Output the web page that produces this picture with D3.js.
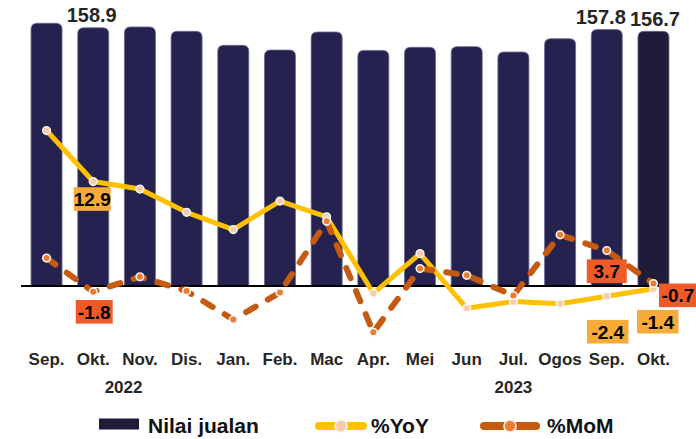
<!DOCTYPE html>
<html>
<head>
<meta charset="utf-8">
<script src="https://cdn.jsdelivr.net/npm/d3@7"></script>
<style>
  html, body { margin: 0; padding: 0; background: #fff; }
  #wrapper { width: 696px; height: 439px; overflow: hidden; }
  text { font-family: "Liberation Sans", Arial, sans-serif; font-weight: bold; }
</style>
</head>
<body>
<div id="wrapper"></div>
<script>
// the chart's values
const months = ["Sep.", "Okt.", "Nov.", "Dis.", "Jan.", "Feb.", "Mac", "Apr.", "Mei", "Jun", "Jul.", "Ogos", "Sep.", "Okt."]
const sales = [161.7, 158.9, 159.4, 156.7, 148.1, 145.2, 156.3, 145.0, 146.9, 147.3, 144.0, 152.2, 157.8, 156.7]
const yoy = [19.7, 12.9, 11.9, 8.8, 6.5, 10.3, 8.2, -2.0, 3.3, -4.0, -3.1, -3.4, -2.4, -1.4]
const mom = [2.7, -1.8, 0.2, -1.7, -5.5, -1.9, 7.6, -7.2, 1.3, 0.4, -2.3, 5.8, 3.7, -0.7]
const years = ["2022", "2023"]
const seriesNames = ["Nilai jualan", "%YoY", "%MoM"]

function drawChart() {
  const dims = {
    width: 696,
    height: 439,
    baseline: 286,
  }

  const colors = {
    bar: "#252250",
    barLast: "#1f1c3a",
    yoy: "#ffc000",
    yoyDot: "#f8cbad",
    mom: "#c55a11",
    momDot: "#ed7d31",
    boxYoy: "#f9ab39",
    boxMom: "#f05a28",
    text: "#262626",
  }

  const svg = d3.select("#wrapper")
    .append("svg")
      .attr("width", dims.width)
      .attr("height", dims.height)

  // scales
  const xScale = d3.scaleBand()
    .domain(d3.range(months.length))
    .range([23.2, 676.8])
    .paddingInner(0.336)
    .paddingOuter(0.168)

  const xMid = i => xScale(i) + xScale.bandwidth() / 2

  const yBar = d3.scaleLinear()
    .domain([0, 160])
    .range([dims.baseline, 26])

  const yLine = d3.scaleLinear()
    .domain([-8, 20])
    .range([338.3, 128.3])

  // bars with rounded tops
  const r = 6
  const barPath = (d, i) => {
    const x0 = xScale(i), x1 = x0 + xScale.bandwidth()
    const y0 = yBar(0), y1 = yBar(d)
    return `M${x0},${y0}V${y1 + r}Q${x0},${y1} ${x0 + r},${y1}H${x1 - r}Q${x1},${y1} ${x1},${y1 + r}V${y0}Z`
  }

  svg.append("g")
    .selectAll("path")
    .data(sales)
    .join("path")
      .attr("d", barPath)
      .attr("fill", (d, i) => i === sales.length - 1 ? colors.barLast : colors.bar)
      .attr("stroke", "#6a6890")
      .attr("stroke-width", 0.8)

  // value labels on top of some bars
  const barLabels = [
    { i: 1, dx: -1.5 },
    { i: 12, dx: -6 },
    { i: 13, dx: 1.5 },
  ]
  svg.append("g")
    .selectAll("text")
    .data(barLabels)
    .join("text")
      .attr("x", d => xMid(d.i) + d.dx)
      .attr("y", d => yBar(sales[d.i]) - 5.5)
      .attr("text-anchor", "middle")
      .attr("font-size", 20)
      .attr("fill", colors.text)
      .text(d => sales[d.i].toFixed(1))

  // zero line of the bars
  svg.append("line")
    .attr("x1", 21)
    .attr("x2", 672)
    .attr("y1", dims.baseline)
    .attr("y2", dims.baseline)
    .attr("stroke", "#000")
    .attr("stroke-width", 2)

  // x axis month labels
  const xAxisGenerator = d3.axisBottom(xScale)
    .tickSize(0)
    .tickPadding(67)
    .tickFormat(i => months[i])

  const xAxis = svg.append("g")
    .attr("transform", `translate(0, ${dims.baseline})`)
    .call(xAxisGenerator)
  xAxis.select(".domain").remove()
  xAxis.selectAll("text")
    .attr("font-size", 17)
    .attr("font-family", "'Liberation Sans', Arial, sans-serif")
    .attr("font-weight", "bold")
    .attr("fill", colors.text)

  // year labels under the months
  const yearAt = [1.65, 10]
  svg.append("g")
    .selectAll("text")
    .data(years)
    .join("text")
      .attr("x", (d, k) => xMid(0) + yearAt[k] * xScale.step())
      .attr("y", 392.5)
      .attr("text-anchor", "middle")
      .attr("font-size", 17)
      .attr("fill", colors.text)
      .text(d => d)

  // lines
  const lineGenerator = d3.line()
    .x((d, i) => xMid(i))
    .y(d => yLine(d))

  svg.append("path")
    .attr("d", lineGenerator(yoy))
    .attr("fill", "none")
    .attr("stroke", colors.yoy)
    .attr("stroke-width", 5)
    .attr("stroke-linejoin", "round")

  svg.append("g")
    .selectAll("circle")
    .data(yoy)
    .join("circle")
      .attr("cx", (d, i) => xMid(i))
      .attr("cy", d => yLine(d))
      .attr("r", 3.8)
      .attr("fill", colors.yoyDot)
      .attr("stroke", "#f4f4f4")
      .attr("stroke-width", 1.6)

  svg.append("path")
    .attr("d", lineGenerator(mom))
    .attr("fill", "none")
    .attr("stroke", colors.mom)
    .attr("stroke-width", 6)
    .attr("stroke-linecap", "round")
    .attr("stroke-dasharray", "11,14")

  svg.append("g")
    .selectAll("circle")
    .data(mom)
    .join("circle")
      .attr("cx", (d, i) => xMid(i))
      .attr("cy", d => yLine(d))
      .attr("r", 3.8)
      .attr("fill", colors.momDot)
      .attr("stroke", "#f4f4f4")
      .attr("stroke-width", 1.6)

  // boxed data labels
  const boxes = [
    { s: yoy, i: 1, dx: -1, dy: 17.5, w: 37, fill: colors.boxYoy },
    { s: mom, i: 1, dx: 1, dy: 20, w: 37, fill: colors.boxMom },
    { s: mom, i: 12, dx: 0, dy: 20.7, w: 40, fill: colors.boxMom },
    { s: mom, i: 13, dx: 24.5, dy: 11.8, w: 38, fill: colors.boxMom },
    { s: yoy, i: 12, dx: 1, dy: 35.4, w: 41.5, fill: colors.boxYoy },
    { s: yoy, i: 13, dx: 4.3, dy: 32.9, w: 41.5, fill: colors.boxYoy },
  ]

  const boxGroups = svg.append("g")
    .selectAll("g")
    .data(boxes)
    .join("g")
      .attr("transform", d => `translate(${xMid(d.i) + d.dx}, ${yLine(d.s[d.i]) + d.dy})`)

  boxGroups.append("rect")
    .attr("x", d => -d.w / 2)
    .attr("y", -11.8)
    .attr("width", d => d.w)
    .attr("height", 23.6)
    .attr("fill", d => d.fill)

  boxGroups.append("text")
    .attr("text-anchor", "middle")
    .attr("y", 7)
    .attr("font-size", 19)
    .attr("fill", "#000")
    .text(d => d.s[d.i].toFixed(1))

  // legend
  const legend = svg.append("g")

  legend.append("rect")
    .attr("x", 99)
    .attr("y", 418.5)
    .attr("width", 40)
    .attr("height", 11)
    .attr("fill", colors.barLast)

  const legendLines = [
    { x0: 319, x1: 363, color: colors.yoy, dot: colors.yoyDot },
    { x0: 484, x1: 536, color: colors.mom, dot: colors.momDot },
  ]
  legendLines.forEach(l => {
    legend.append("line")
      .attr("x1", l.x0).attr("x2", l.x1)
      .attr("y1", 426).attr("y2", 426)
      .attr("stroke", l.color)
      .attr("stroke-width", 8)
      .attr("stroke-linecap", "round")
    legend.append("circle")
      .attr("cx", (l.x0 + l.x1) / 2)
      .attr("cy", 426)
      .attr("r", 6)
      .attr("fill", l.dot)
      .attr("stroke", "#f4f4f4")
      .attr("stroke-width", 1.6)
  })

  const legendTextX = [148, 371, 547]
  legend.selectAll("text")
    .data(seriesNames)
    .join("text")
      .attr("x", (d, i) => legendTextX[i])
      .attr("y", 433)
      .attr("font-size", 21)
      .attr("fill", "#111")
      .text(d => d)
}

drawChart()
</script>
</body>
</html>
